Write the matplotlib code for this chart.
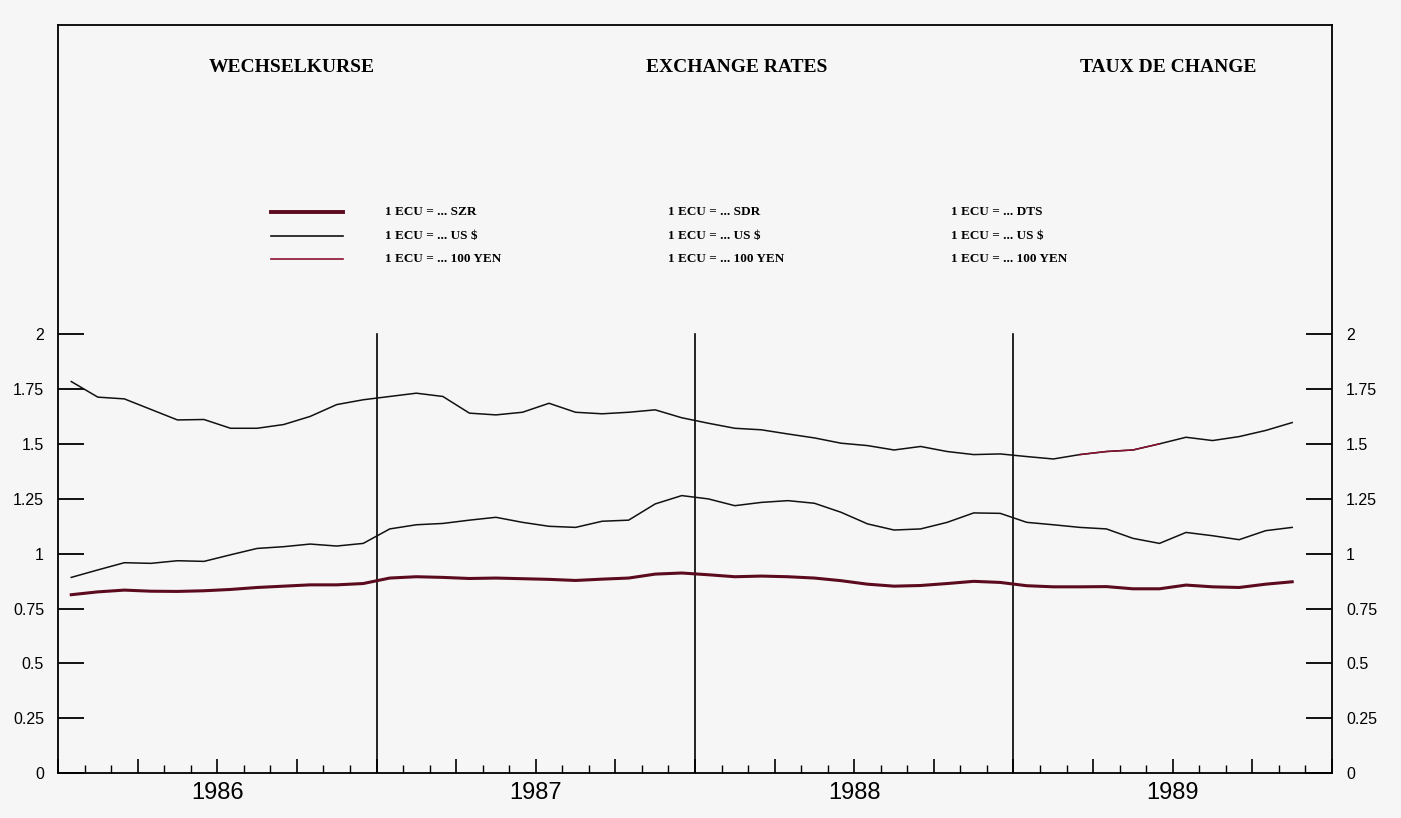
import numpy as np
import matplotlib
matplotlib.use("Agg")
import matplotlib.pyplot as plt
from matplotlib.lines import Line2D

# ---------------- data (monthly, Jan 1986 - Nov 1989) ----------------
years = ["1986", "1987", "1988", "1989"]
yen_100 = [1.785, 1.714, 1.706, 1.658, 1.610, 1.612, 1.572, 1.572, 1.589, 1.626, 1.680, 1.702,
           1.717, 1.732, 1.717, 1.641, 1.633, 1.645, 1.686, 1.645, 1.638, 1.645, 1.656, 1.620,
           1.595, 1.572, 1.565, 1.546, 1.528, 1.504, 1.493, 1.473, 1.489, 1.466, 1.452, 1.455,
           1.443, 1.432, 1.452, 1.466, 1.473, 1.501, 1.531, 1.516, 1.534, 1.562, 1.598]
us_dollar = [0.892, 0.926, 0.959, 0.956, 0.968, 0.965, 0.995, 1.024, 1.032, 1.044, 1.035, 1.047,
             1.113, 1.132, 1.138, 1.153, 1.166, 1.143, 1.125, 1.120, 1.148, 1.153, 1.227, 1.265,
             1.250, 1.219, 1.234, 1.242, 1.230, 1.189, 1.136, 1.108, 1.113, 1.143, 1.186, 1.184,
             1.143, 1.132, 1.120, 1.113, 1.070, 1.047, 1.097, 1.082, 1.064, 1.105, 1.120]
sdr = [0.813, 0.826, 0.834, 0.829, 0.828, 0.831, 0.837, 0.846, 0.852, 0.858, 0.858, 0.864,
       0.889, 0.895, 0.892, 0.887, 0.889, 0.886, 0.883, 0.878, 0.884, 0.889, 0.907, 0.912,
       0.904, 0.895, 0.898, 0.895, 0.889, 0.877, 0.861, 0.852, 0.855, 0.864, 0.874, 0.869,
       0.854, 0.849, 0.849, 0.850, 0.840, 0.840, 0.857, 0.849, 0.846, 0.861, 0.872]
y_ticks = [0, 0.25, 0.5, 0.75, 1, 1.25, 1.5, 1.75, 2]
y_ticklabels = ["0", "0.25", "0.5", "0.75", "1", "1.25", "1.5", "1.75", "2"]
titles = ["WECHSELKURSE", "EXCHANGE RATES", "TAUX DE CHANGE"]
legend_de = ["1 ECU = ... SZR", "1 ECU = ... US $", "1 ECU = ... 100 YEN"]
legend_en = ["1 ECU = ... SDR", "1 ECU = ... US $", "1 ECU = ... 100 YEN"]
legend_fr = ["1 ECU = ... DTS", "1 ECU = ... US $", "1 ECU = ... 100 YEN"]

# ---------------- styling ----------------
BG = "#f6f6f6"
SDR_C = "#5c0b1f"
RED_C = "#8a1030"
serif_b = dict(family=["Liberation Serif", "DejaVu Serif"], weight="bold")
sans = ["Liberation Sans", "DejaVu Sans"]

W, H = 1401, 818
fig = plt.figure(figsize=(W / 100, H / 100), dpi=100, facecolor=BG)
L, R, T, B = 58, 1332, 25, 773
ax = fig.add_axes([L / W, 1 - B / H, (R - L) / W, (B - T) / H], facecolor=BG)

n_months = 12 * len(years)
x = np.arange(len(sdr)) + 0.5

ax.set_xlim(0, n_months)
ax.set_ylim(0, (772 - 25) / 219)

# series
ax.plot(x, yen_100, color="#111111", lw=1.1, solid_joinstyle="round", zorder=3)
seg = slice(38, 42)
ax.plot(x[seg], yen_100[seg], color=RED_C, lw=1.1, zorder=4)
ax.plot(x, us_dollar, color="#111111", lw=1.1, solid_joinstyle="round", zorder=3)
ax.plot(x, sdr, color=SDR_C, lw=2.2, solid_joinstyle="round", zorder=3)

# year-boundary vertical lines
for k in range(1, len(years)):
    ax.plot([12 * k, 12 * k], [0, 2], color="black", lw=1.2, zorder=2)

# frame
for s in ax.spines.values():
    s.set_linewidth(1.3)
    s.set_color("black")

# x ticks: quarters (major), months (minor), inward
ax.set_xticks(np.arange(0, n_months + 1, 3))
ax.set_xticks(np.arange(0, n_months + 1, 1), minor=True)
ax.tick_params(axis="x", which="major", direction="in", length=10, width=1.2, labelbottom=False)
ax.tick_params(axis="x", which="minor", direction="in", length=6, width=1.0)

# y ticks both sides, inward
ax.set_yticks(y_ticks)
ax.set_yticklabels(y_ticklabels)
ax.tick_params(axis="y", which="major", direction="in", length=19, width=1.3,
               left=True, right=True, labelleft=True, labelright=True, pad=10,
               labelsize=11.5)
for lab in ax.get_yticklabels():
    lab.set_family(sans)

# year labels
for i, yr in enumerate(years):
    ax.annotate(yr, xy=(12 * i + 6, 0), xycoords=("data", "axes fraction"),
                xytext=(0, -20), textcoords="offset pixels",
                ha="center", va="center", fontsize=17, family=sans)

# titles
for xf, t in zip([292, 737, 1168], titles):
    ax.text((xf - L) / (R - L), (B - 67) / (B - T), t, transform=ax.transAxes,
            ha="center", va="center", fontsize=14, **serif_b)

# legend
leg_y = [(B - py) / (B - T) for py in (212, 236, 259)]
x0, x1 = (271 - L) / (R - L), (343 - L) / (R - L)
for yy, c, lw in zip(leg_y, [SDR_C, "#111111", RED_C], [2.8, 1.2, 1.2]):
    ax.add_line(Line2D([x0, x1], [yy, yy], transform=ax.transAxes, color=c, lw=lw))
for px, texts in zip([385, 668, 951], [legend_de, legend_en, legend_fr]):
    for yy, t in zip(leg_y, texts):
        ax.text((px - L) / (R - L), yy, t, transform=ax.transAxes,
                ha="left", va="center", fontsize=9.5, **serif_b)

fig.savefig("out.png", dpi=100, facecolor=BG)
